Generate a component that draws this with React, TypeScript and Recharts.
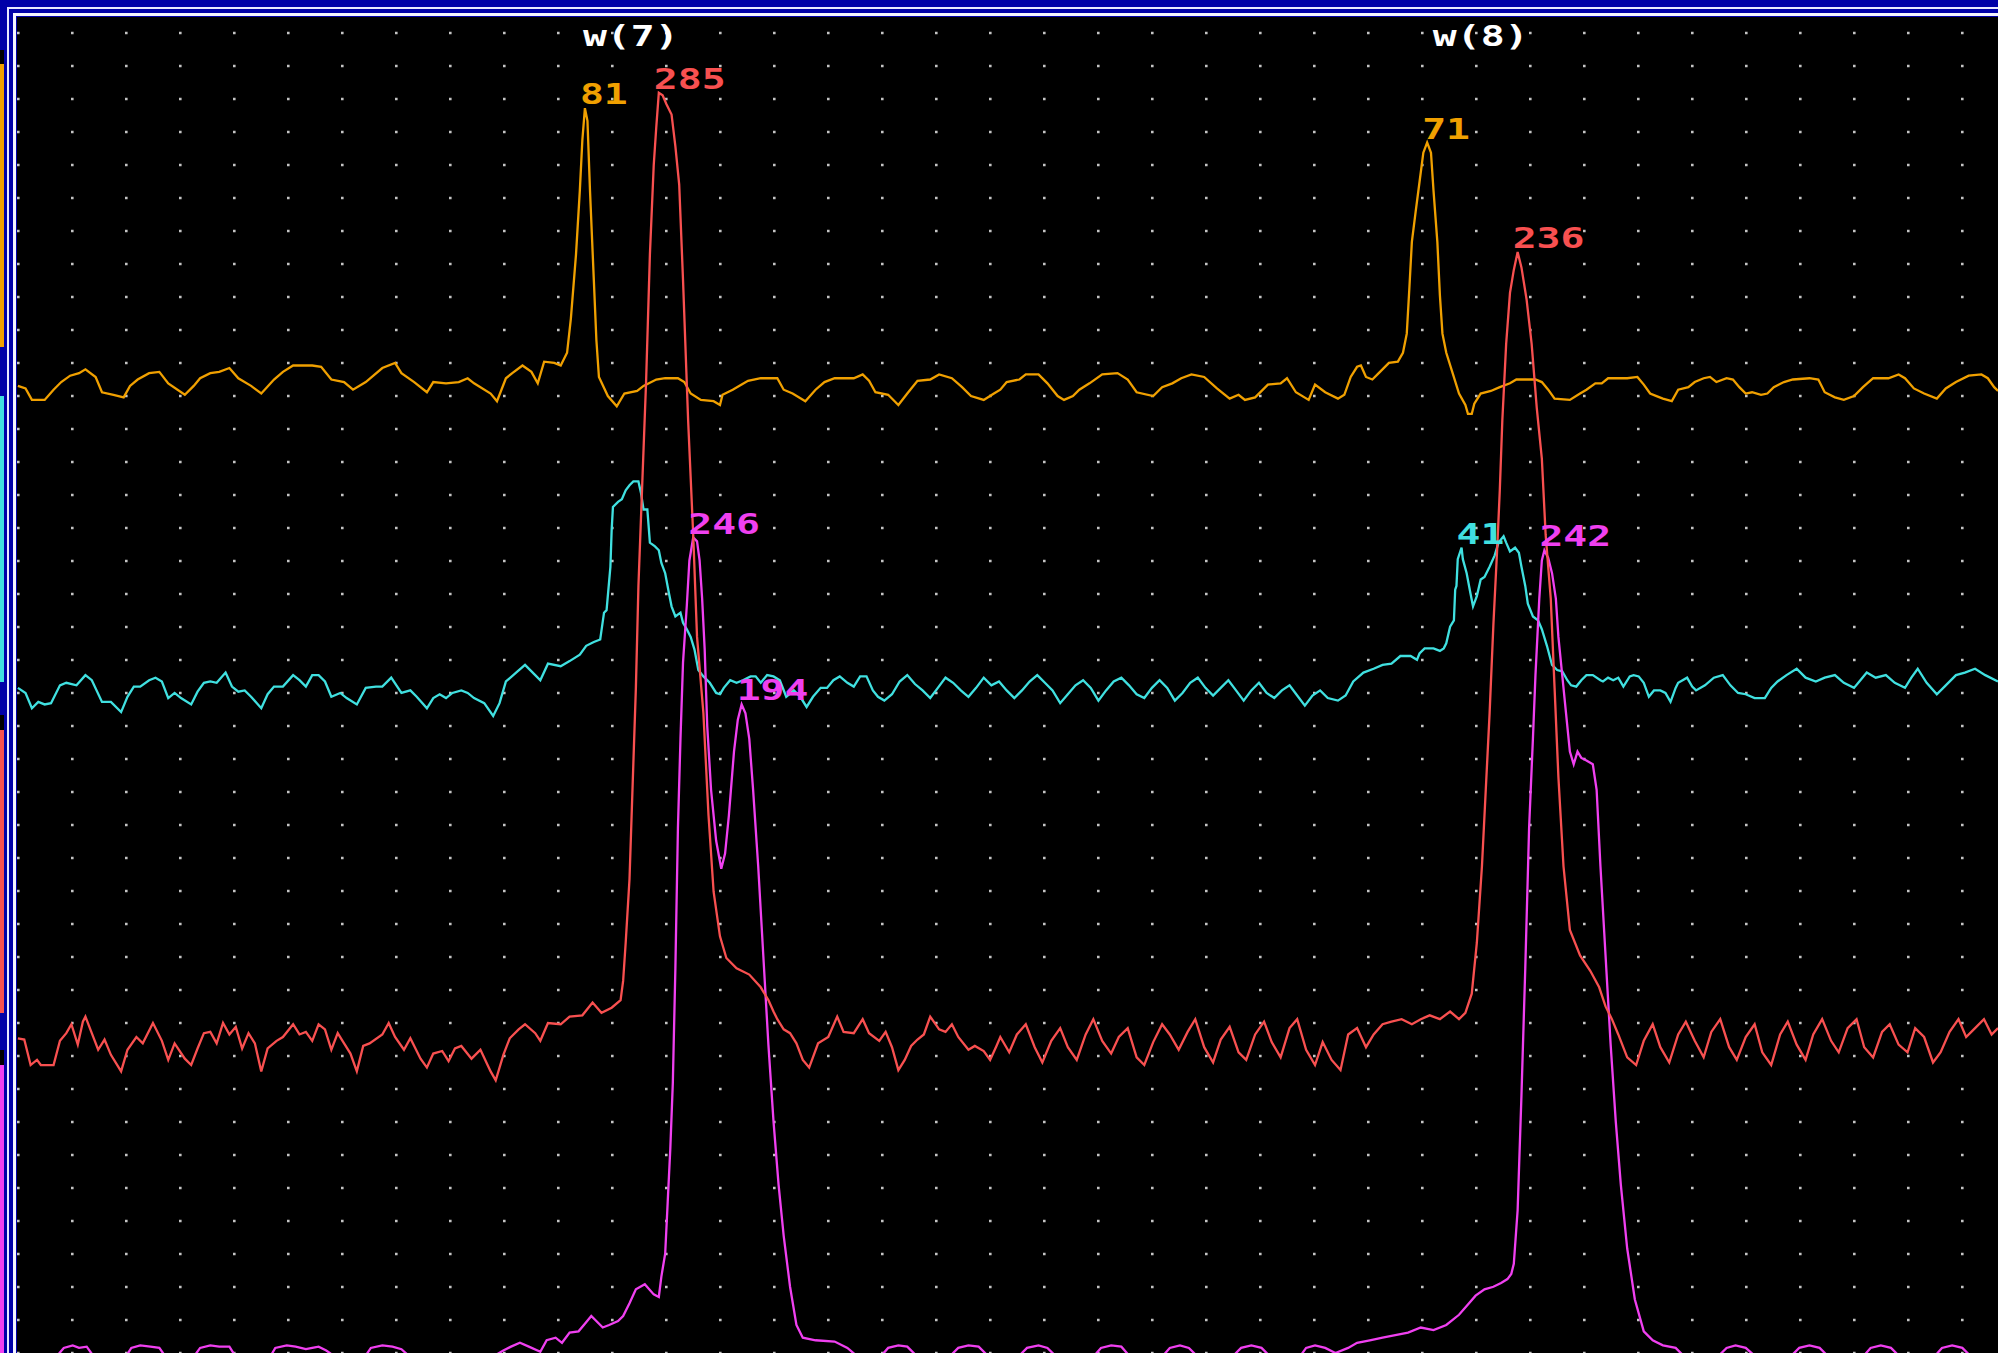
import React from 'react';
import { LineChart, Line, XAxis, YAxis, CartesianGrid, ReferenceLine, LabelList } from 'recharts';

// scan position / signal level pairs
const orangeTrace: [number, number][] = [
  [14, 759], [20, 757], [25, 748], [35, 748], [42, 756], [48, 762], [55, 767], [62, 769], [67, 772], [75, 766],
  [80, 754], [89, 752], [97, 750], [102, 759], [108, 764], [117, 769], [125, 770], [132, 761], [145, 752], [152, 759],
  [157, 765], [165, 769], [172, 770], [180, 773], [187, 765], [197, 759], [205, 753], [215, 764], [222, 770], [230, 775],
  [245, 775], [252, 774], [260, 764], [270, 762], [277, 756], [287, 762], [300, 773], [310, 777], [315, 769], [325, 762],
  [335, 754], [340, 762], [350, 761], [360, 762], [367, 765], [372, 761], [385, 753], [390, 747], [397, 765], [402, 769],
  [410, 775], [417, 770], [422, 761], [427, 778], [435, 777], [440, 775], [445, 785], [448, 812], [452, 862], [455, 912],
  [457, 952], [459, 977], [461, 967], [463, 912], [466, 842], [468, 795], [470, 766], [477, 751], [484, 743], [490, 753],
  [500, 755], [505, 759], [515, 764], [522, 765], [532, 765], [537, 762], [542, 753], [550, 748], [560, 747], [565, 744],
  [567, 752], [575, 756], [582, 760], [587, 763], [597, 765], [610, 765], [615, 756], [622, 753], [632, 747], [640, 756],
  [647, 762], [655, 765], [670, 765], [677, 768], [682, 763], [687, 754], [697, 752], [705, 744], [712, 753], [720, 763],
  [730, 764], [737, 768], [747, 765], [755, 758], [762, 751], [772, 748], [780, 753], [785, 756], [790, 762], [800, 764],
  [805, 768], [815, 768], [822, 761], [830, 751], [835, 748], [842, 751], [847, 756], [855, 761], [865, 768], [877, 769],
  [885, 764], [892, 754], [905, 751], [912, 758], [920, 761], [927, 765], [935, 768], [945, 766], [955, 757], [965, 749],
  [972, 752], [977, 748], [985, 750], [995, 760], [1005, 761], [1010, 765], [1017, 754], [1027, 748], [1032, 760], [1040, 754],
  [1050, 749], [1055, 752], [1060, 766], [1065, 774], [1068, 775], [1072, 766], [1077, 764], [1082, 769], [1090, 777], [1097, 778],
  [1101, 785], [1104, 800], [1106, 835], [1108, 872], [1111, 896], [1114, 919], [1117, 942], [1120, 950], [1123, 942], [1125, 912],
  [1128, 872], [1130, 830], [1132, 800], [1135, 785], [1140, 769], [1145, 753], [1150, 744], [1152, 737], [1155, 737], [1157, 745],
  [1162, 753], [1170, 755], [1177, 758], [1185, 761], [1190, 764], [1205, 764], [1210, 762], [1215, 756], [1220, 749], [1232, 748],
  [1240, 753], [1245, 756], [1252, 761], [1257, 761], [1262, 765], [1277, 765], [1285, 766], [1290, 760], [1295, 753], [1300, 751],
  [1305, 749], [1312, 747], [1317, 756], [1325, 758], [1330, 762], [1337, 765], [1342, 766], [1347, 762], [1355, 765], [1360, 764],
  [1365, 758], [1370, 753], [1375, 754], [1382, 752], [1387, 753], [1392, 758], [1400, 762], [1407, 764], [1420, 765], [1427, 764],
  [1432, 754], [1440, 750], [1447, 748], [1455, 751], [1462, 758], [1470, 765], [1482, 765], [1490, 768], [1495, 765], [1502, 757],
  [1510, 753], [1520, 749], [1527, 757], [1535, 762], [1545, 767], [1555, 768], [1560, 765], [1565, 758], [1568, 755],
];

const cyanTrace: [number, number][] = [
  [14, 522], [20, 518], [25, 506], [30, 511], [35, 509], [40, 510], [47, 524], [52, 526], [60, 524], [67, 532],
  [72, 528], [80, 511], [87, 511], [95, 503], [100, 515], [105, 523], [110, 523], [117, 528], [122, 530], [127, 527],
  [132, 514], [137, 518], [142, 514], [150, 509], [155, 519], [160, 526], [165, 527], [170, 526], [177, 534], [182, 523],
  [187, 519], [192, 520], [197, 515], [205, 506], [210, 517], [215, 523], [222, 523], [230, 532], [235, 528], [240, 523],
  [245, 532], [250, 532], [255, 527], [260, 515], [267, 518], [272, 514], [280, 509], [287, 522], [295, 523], [300, 523],
  [307, 530], [315, 518], [322, 520], [327, 515], [335, 506], [340, 514], [345, 517], [350, 514], [355, 518], [362, 520],
  [367, 518], [372, 514], [380, 510], [387, 500], [392, 510], [397, 527], [405, 534], [412, 540], [420, 532], [424, 528],
  [430, 541], [440, 539], [447, 543], [455, 548], [460, 555], [466, 558], [471, 560], [474, 581], [476, 583], [479, 617],
  [480, 646], [481, 664], [485, 668], [488, 670], [491, 677], [494, 681], [497, 684], [501, 684], [503, 675], [505, 662],
  [508, 662], [510, 636], [514, 633], [517, 630], [519, 620], [522, 612], [525, 596], [527, 586], [530, 578], [534, 581],
  [536, 573], [539, 568], [542, 562], [545, 552], [548, 536], [552, 531], [557, 526], [562, 518], [565, 517], [568, 522],
  [573, 528], [578, 526], [583, 528], [589, 531], [593, 531], [597, 526], [602, 532], [607, 531], [612, 528], [617, 515],
  [623, 520], [628, 515], [633, 507], [638, 515], [644, 522], [649, 522], [654, 528], [659, 531], [665, 526], [670, 523],
  [675, 531], [680, 531], [685, 520], [689, 515], [694, 512], [700, 517], [706, 527], [712, 532], [718, 525], [724, 520],
  [730, 514], [736, 522], [742, 530], [748, 526], [754, 520], [760, 515], [766, 522], [772, 530], [778, 524], [784, 527],
  [790, 520], [796, 514], [802, 520], [808, 527], [814, 532], [820, 526], [826, 520], [832, 510], [838, 517], [844, 524],
  [850, 528], [856, 522], [862, 512], [868, 520], [874, 527], [880, 530], [886, 524], [892, 517], [898, 514], [904, 522],
  [910, 528], [916, 522], [922, 512], [928, 518], [934, 526], [940, 530], [946, 522], [952, 516], [958, 522], [964, 528],
  [970, 520], [976, 512], [982, 520], [988, 526], [994, 518], [1000, 514], [1006, 520], [1012, 524], [1018, 516], [1024, 508],
  [1030, 516], [1036, 520], [1042, 514], [1050, 512], [1056, 516], [1062, 527], [1070, 534], [1078, 537], [1085, 540], [1092, 541],
  [1099, 547], [1107, 547], [1112, 544], [1114, 549], [1118, 553], [1125, 553], [1130, 551], [1133, 553],
  [1135, 557], [1138, 570], [1141, 575], [1142, 599], [1143, 602], [1144, 623], [1147, 632], [1148, 623], [1151, 612], [1154, 596],
  [1156, 586], [1159, 594], [1162, 607], [1165, 609], [1169, 617], [1173, 626], [1176, 636], [1180, 641], [1182, 636], [1185, 629],
  [1189, 632], [1192, 628], [1194, 617], [1197, 602], [1199, 588], [1203, 578], [1207, 575], [1210, 568], [1214, 555], [1218, 540],
  [1222, 536], [1226, 535], [1230, 528], [1233, 524], [1237, 523], [1241, 528], [1245, 532], [1250, 532], [1256, 528], [1258, 527],
  [1262, 530], [1266, 528], [1270, 530], [1274, 523], [1279, 531], [1282, 532], [1286, 531], [1290, 526], [1294, 515], [1298, 520],
  [1303, 520], [1307, 518], [1311, 511], [1315, 522], [1317, 526], [1324, 530], [1328, 523], [1331, 520], [1338, 524], [1345, 530],
  [1352, 532], [1358, 524], [1364, 518], [1370, 517], [1377, 514], [1385, 514], [1390, 522], [1395, 527], [1402, 532], [1410, 537],
  [1417, 530], [1425, 527], [1432, 530], [1440, 532], [1447, 526], [1455, 522], [1460, 528], [1465, 534], [1472, 530], [1480, 532],
  [1487, 526], [1495, 522], [1500, 530], [1505, 537], [1512, 526], [1520, 517], [1527, 524], [1535, 532], [1542, 534], [1550, 537],
  [1558, 532], [1568, 527],
];

const redTrace: [number, number][] = [
  [14, 247], [19, 246], [24, 226], [29, 230], [32, 226], [42, 226], [47, 245], [52, 251], [56, 258], [61, 242],
  [65, 260], [67, 264], [72, 251], [77, 238], [82, 246], [87, 234], [95, 221], [100, 238], [107, 248], [112, 243],
  [120, 259], [127, 245], [132, 230], [137, 243], [145, 231], [150, 226], [155, 239], [160, 251], [165, 252], [170, 243],
  [175, 259], [180, 250], [185, 256], [190, 239], [195, 251], [200, 243], [205, 221], [210, 239], [217, 245], [222, 248],
  [230, 258], [235, 250], [240, 252], [245, 245], [250, 258], [255, 254], [260, 238], [265, 251], [270, 243], [275, 235],
  [280, 221], [285, 241], [290, 243], [300, 250], [305, 259], [310, 248], [317, 238], [322, 247], [330, 231], [335, 224],
  [340, 235], [347, 237], [352, 229], [357, 239], [362, 241], [370, 231], [377, 238], [385, 221], [389, 214], [395, 234],
  [400, 247], [407, 254], [412, 258], [420, 251], [424, 245], [430, 259], [440, 258], [447, 264], [457, 265], [465, 275],
  [472, 267], [480, 271], [487, 277], [489, 292], [491, 322], [494, 372], [497, 462], [499, 522], [501, 602], [504, 682],
  [507, 762], [510, 862], [513, 932], [515, 962], [517, 989], [520, 987], [523, 980], [527, 972], [530, 947], [533, 917],
  [536, 842], [540, 732], [544, 642], [547, 562], [552, 502], [556, 422], [560, 362], [565, 327], [570, 310], [578, 302],
  [588, 297], [597, 287], [603, 277], [607, 268], [610, 262], [615, 254], [620, 251], [625, 243], [630, 230], [635, 224],
  [642, 243], [650, 248], [657, 264], [662, 252], [670, 251], [677, 262], [682, 251], [690, 245], [695, 252], [700, 240],
  [705, 222], [710, 230], [715, 241], [720, 246], [725, 250], [730, 264], [737, 254], [742, 252], [747, 258], [752, 248],
  [760, 238], [765, 241], [772, 237], [777, 230], [782, 241], [785, 248], [792, 236], [798, 250], [805, 258], [812, 240],
  [818, 228], [825, 245], [832, 255], [838, 240], [845, 230], [852, 250], [858, 262], [865, 245], [872, 235], [878, 248],
  [885, 255], [892, 232], [898, 226], [905, 244], [912, 258], [918, 250], [925, 238], [932, 252], [938, 262], [945, 240],
  [952, 228], [958, 246], [965, 256], [972, 236], [978, 230], [985, 250], [992, 260], [998, 244], [1005, 232], [1012, 255],
  [1018, 262], [1025, 238], [1032, 226], [1038, 244], [1045, 230], [1052, 222], [1058, 250], [1065, 255], [1072, 240], [1078, 250],
  [1085, 258], [1092, 260], [1100, 262], [1108, 258], [1115, 262], [1122, 265], [1130, 262], [1138, 268], [1145, 262], [1150, 267],
  [1155, 282], [1159, 322], [1163, 382], [1166, 442], [1169, 502], [1172, 572], [1175, 632], [1177, 677], [1179, 732], [1182, 792],
  [1185, 832], [1188, 850], [1191, 864], [1194, 852], [1198, 827], [1202, 792], [1206, 742], [1210, 702], [1213, 642], [1217, 592],
  [1220, 522], [1223, 452], [1227, 382], [1232, 332], [1240, 312], [1248, 300], [1255, 287], [1260, 272], [1265, 262], [1270, 250],
  [1277, 232], [1284, 226], [1290, 245], [1297, 258], [1303, 240], [1310, 228], [1317, 250], [1323, 260], [1330, 245], [1337, 232],
  [1343, 252], [1350, 262], [1357, 240], [1363, 230], [1370, 248], [1377, 258], [1383, 236], [1390, 226], [1397, 250], [1403, 260],
  [1410, 242], [1417, 230], [1423, 250], [1430, 262], [1437, 245], [1443, 236], [1450, 255], [1457, 262], [1463, 240], [1470, 232],
  [1477, 252], [1483, 258], [1490, 242], [1497, 236], [1503, 255], [1510, 248], [1517, 228], [1523, 236], [1530, 252], [1537, 262],
  [1543, 248], [1550, 255], [1557, 262], [1563, 250], [1568, 255],
];

const magentaTrace: [number, number][] = [
  [14, -6], [30, -8], [45, -2], [50, 4], [57, 6], [62, 4], [68, 5], [73, -2], [85, -8], [98, -4],
  [103, 4], [110, 6], [118, 5], [125, 4], [130, -3], [142, -8], [152, -3], [157, 4], [165, 6], [172, 5],
  [180, 5], [185, -3], [200, -8], [212, -3], [216, 4], [225, 6], [232, 5], [240, 3], [245, 4], [250, 5],
  [256, 2], [270, -8], [285, -5], [291, 4], [300, 6], [308, 5], [315, 3], [325, -6], [340, -8], [355, -6],
  [370, -8], [385, -4], [395, 2], [401, 5], [408, 8], [415, 5], [424, 1], [429, 10], [436, 12], [441, 8],
  [447, 16], [454, 17], [459, 23], [464, 29], [473, 20], [478, 22], [485, 25], [489, 29], [494, 39], [499, 50],
  [506, 54], [513, 46], [517, 44], [519, 60], [522, 78], [524, 119], [526, 160], [528, 212], [530, 302], [532, 412],
  [534, 482], [536, 542], [539, 587], [541, 622], [544, 640], [547, 637], [549, 622], [551, 592], [553, 552], [555, 492],
  [558, 442], [562, 402], [566, 380], [569, 392], [572, 422], [576, 472], [579, 497], [582, 509], [585, 502], [588, 482],
  [591, 442], [595, 382], [599, 312], [603, 242], [607, 182], [611, 132], [615, 92], [620, 52], [625, 22], [630, 12],
  [640, 10], [655, 9], [665, 4], [672, -2], [680, -8], [690, -4], [697, 4], [705, 6], [712, 5], [720, -3],
  [732, -8], [745, -3], [752, 4], [760, 6], [768, 5], [775, -2], [790, -8], [800, -2], [806, 4], [815, 6],
  [822, 4], [830, -4], [845, -8], [858, -3], [864, 4], [872, 6], [880, 5], [886, -2], [900, -8], [912, -3],
  [918, 4], [926, 6], [933, 4], [940, -3], [955, -8], [968, -2], [974, 4], [982, 6], [990, 4], [997, -3],
  [1010, -8], [1020, -3], [1025, 4], [1032, 6], [1040, 4], [1048, 0], [1058, 4], [1065, 8], [1075, 10], [1085, 12],
  [1095, 14], [1105, 16], [1115, 20], [1125, 18], [1135, 22], [1145, 30], [1152, 38], [1158, 45], [1165, 50], [1172, 52],
  [1178, 55], [1183, 58], [1186, 62], [1188, 70], [1191, 112], [1194, 202], [1197, 302], [1200, 412], [1203, 482], [1205, 532],
  [1208, 592], [1210, 622], [1212, 630], [1215, 624], [1218, 612], [1221, 592], [1223, 562], [1226, 532], [1229, 502], [1232, 472],
  [1235, 462], [1238, 472], [1241, 467], [1245, 465], [1250, 462], [1253, 442], [1256, 382], [1260, 312], [1264, 242], [1268, 182],
  [1272, 132], [1277, 82], [1283, 42], [1290, 17], [1297, 10], [1305, 6], [1315, 4], [1322, -3], [1335, -8], [1348, -3],
  [1355, 4], [1362, 6], [1370, 4], [1378, -3], [1392, -8], [1405, -3], [1412, 4], [1420, 6], [1428, 4], [1435, -3],
  [1450, -8], [1462, -3], [1468, 4], [1476, 6], [1484, 4], [1491, -3], [1505, -8], [1518, -3], [1524, 4], [1532, 6],
  [1540, 4], [1547, -3], [1560, -8], [1568, -4],
];

const peakLabels = [
  { trace: 'orange', pos: 459, text: '81' },
  { trace: 'red', pos: 517, text: '285' },
  { trace: 'magenta', pos: 544, text: '246' },
  { trace: 'magenta', pos: 582, text: '194' },
  { trace: 'orange', pos: 1120, text: '71' },
  { trace: 'red', pos: 1191, text: '236' },
  { trace: 'cyan', pos: 1147, text: '41' },
  { trace: 'magenta', pos: 1212, text: '242' },
];

const baseMarkers = [
  { pos: 495, text: 'w(7)' },
  { pos: 1162, text: 'w(8)' },
];

const COLORS: Record<string, string> = {
  orange: '#F0A000',
  cyan: '#40E0E0',
  red: '#F85050',
  magenta: '#F040F0',
};

const FONT = '"DejaVu Sans Mono", "Liberation Mono", monospace';

const toData = (name: string, trace: [number, number][]) =>
  trace.map(([x, v]) => {
    const lab = peakLabels.find((p) => p.trace === name && p.pos === x);
    return { x, v, label: lab ? lab.text : undefined };
  });

const seriesOrder = [
  { name: 'cyan', trace: cyanTrace },
  { name: 'orange', trace: orangeTrace },
  { name: 'magenta', trace: magentaTrace },
  { name: 'red', trace: redTrace },
];

const peakLabel = (color: string) => (props: any) => {
  const { value } = props;
  if (!value) return null;
  const x = props.x ?? props.viewBox?.x;
  const y = props.y ?? props.viewBox?.y;
  return (
    <text
      transform={`translate(${x - 5},${y - 4}) scale(1.42,1)`}
      fill={color}
      fontFamily={FONT}
      fontWeight="bold"
      fontSize={28}
    >
      {value}
    </text>
  );
};

const markerLabel = (text: string) => (props: any) => {
  const vb = props.viewBox || {};
  return (
    <text
      transform={`translate(${vb.x},${(vb.y || 0) + 29}) scale(1.42,1)`}
      textAnchor="middle"
      fill="#ffffff"
      fontFamily={FONT}
      fontWeight="bold"
      fontSize={28}
    >
      {text}
    </text>
  );
};

const PLOT_W = 1981;
const PLOT_H = 1336;

// dotted graticule: rows every 33px, dots every 54px
const gridRows: number[] = [];
for (let y = 16; y <= PLOT_H; y += 33) gridRows.push(y);

const sideStrips = [
  { color: '#000000', top: 50, height: 14 },
  { color: COLORS.orange, top: 64, height: 283 },
  { color: COLORS.cyan, top: 396, height: 286 },
  { color: '#000000', top: 715, height: 15 },
  { color: COLORS.red, top: 730, height: 283 },
  { color: '#000000', top: 1050, height: 15 },
  { color: COLORS.magenta, top: 1065, height: 288 },
];

export default function App() {
  return (
    <div style={{ position: 'absolute', left: 0, top: 0, width: 1998, height: 1353, background: '#0000A8', overflow: 'hidden' }}>
      {sideStrips.map((s, i) => (
        <div key={i} style={{ position: 'absolute', left: 0, top: s.top, width: 4, height: s.height, background: s.color }} />
      ))}
      <div style={{ position: 'absolute', left: 7, top: 7, right: 0, bottom: 0, borderLeft: '2px solid #e8e8ff', borderTop: '2px solid #e8e8ff' }} />
      <div style={{ position: 'absolute', left: 13, top: 13, right: 0, bottom: 0, borderLeft: '3px solid #f4f4ff', borderTop: '3px solid #f4f4ff' }} />
      <div style={{ position: 'absolute', left: 17, top: 17, width: PLOT_W, height: PLOT_H, background: '#000000' }}>
        <LineChart width={PLOT_W} height={PLOT_H} margin={{ top: 0, right: 0, bottom: 0, left: 0 }}>
          <CartesianGrid
            vertical={false}
            horizontalPoints={gridRows}
            stroke="#c4c4c4"
            strokeWidth={2.6}
            strokeDasharray="2.6 51.4"
          />
          <XAxis type="number" dataKey="x" domain={[13.3, 1568]} allowDataOverflow hide />
          <YAxis type="number" dataKey="v" domain={[0, 1048.5]} allowDataOverflow hide />
          {baseMarkers.map((m) => (
            <ReferenceLine key={m.text} x={m.pos} stroke="none" strokeOpacity={0} label={markerLabel(m.text)} />
          ))}
          {seriesOrder.map((s) => (
            <Line
              key={s.name}
              data={toData(s.name, s.trace)}
              dataKey="v"
              type="linear"
              stroke={COLORS[s.name]}
              strokeWidth={2.3}
              dot={false}
              activeDot={false}
              isAnimationActive={false}
            >
              <LabelList dataKey="label" content={peakLabel(COLORS[s.name])} />
            </Line>
          ))}
        </LineChart>
      </div>
    </div>
  );
}
